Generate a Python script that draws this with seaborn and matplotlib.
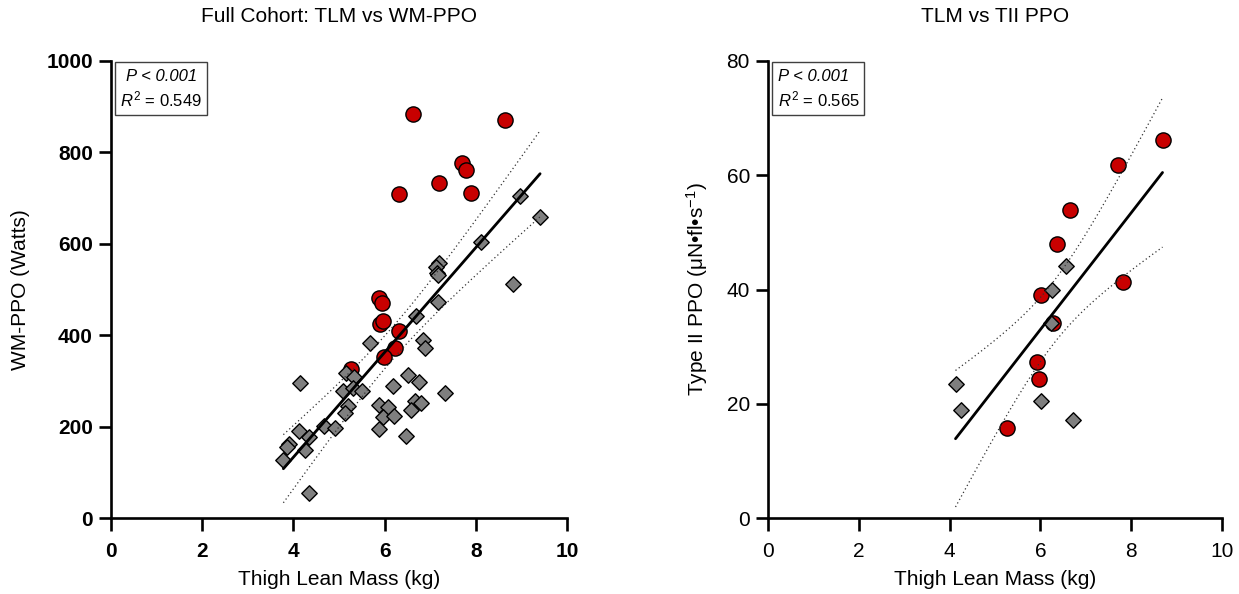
import numpy as np
import pandas as pd
import matplotlib
matplotlib.use("Agg")
import matplotlib.pyplot as plt
from matplotlib.patches import Rectangle
import seaborn as sns

# ---------------- data ----------------
# Left panel: Full cohort, TLM (kg) vs WM-PPO (W)
left_red_x = [6.62, 8.64, 7.69, 7.79, 7.20, 6.32, 7.89, 5.88, 5.94, 5.90, 5.97, 6.32, 6.23, 5.98, 5.26]
left_red_y = [885, 870, 777, 761, 733, 709, 711, 481, 471, 424, 432, 409, 373, 352, 325]
left_grey_x = [8.97, 9.41, 8.11, 7.19, 7.13, 7.14, 7.18, 8.82, 7.18, 6.69, 5.68, 6.85, 6.89, 4.14,
               5.15, 5.33, 5.09, 5.30, 5.50, 6.52, 6.76, 6.19, 7.32, 5.20, 5.13, 5.88, 6.08, 5.97,
               6.21, 6.67, 6.79, 6.57, 4.67, 4.92, 5.88, 6.46, 4.12, 4.35, 3.90, 3.87, 4.25, 3.78, 4.35]
left_grey_y = [705, 658, 603, 557, 550, 537, 532, 512, 473, 443, 382, 390, 373, 295,
               318, 309, 278, 284, 278, 313, 297, 289, 273, 245, 230, 247, 242, 222,
               224, 257, 251, 236, 202, 196, 194, 180, 190, 178, 162, 155, 149, 128, 54]

# Right panel: TLM (kg) vs Type II PPO
right_red_x = [8.69, 7.72, 6.65, 6.36, 6.02, 6.28, 5.92, 5.96, 5.27, 7.82]
right_red_y = [66.2, 61.8, 54.0, 47.9, 39.1, 34.1, 27.3, 24.3, 15.8, 41.4]
right_grey_x = [6.56, 6.25, 6.23, 4.13, 4.26, 6.01, 6.71]
right_grey_y = [44.2, 40.0, 34.2, 23.5, 18.9, 20.4, 17.2]

titles = ["Full Cohort: TLM vs WM-PPO", "TLM vs TII PPO"]
xlabel = "Thigh Lean Mass (kg)"
ylabels = ["WM-PPO (Watts)", "Type II PPO (\u03bcN\u2022fl\u2022s$^{-1}$)"]
p_text = ["P < 0.001", "P < 0.001"]
r2_text = ["0.549", "0.565"]
x_ticks = [0, 2, 4, 6, 8, 10]
y_ticks_left = [0, 200, 400, 600, 800, 1000]
y_ticks_right = [0, 20, 40, 60, 80]

RED = "#C80000"
GREY = "#7F7F7F"

# ---------------- style ----------------
sns.set_style("ticks")
plt.rcParams["font.family"] = ["Liberation Sans", "DejaVu Sans"]
plt.rcParams["mathtext.fontset"] = "custom"
plt.rcParams["mathtext.rm"] = "Liberation Sans"
plt.rcParams["mathtext.it"] = "Liberation Sans:italic"
plt.rcParams["mathtext.bf"] = "Liberation Sans:bold"
plt.rcParams["text.color"] = "black"
plt.rcParams["axes.labelcolor"] = "black"
plt.rcParams["xtick.color"] = "black"
plt.rcParams["ytick.color"] = "black"

fig = plt.figure(figsize=(12.39, 5.94), dpi=100)
axL = fig.add_axes([111 / 1239, 1 - 518 / 594, (567 - 111) / 1239, (518 - 61) / 594])
axR = fig.add_axes([768 / 1239, 1 - 518 / 594, (1222 - 768) / 1239, (518 - 61) / 594])


def tcrit(df):
    z = 1.959964
    return z + (z**3 + z) / (4 * df) + (5 * z**5 + 16 * z**3 + 3 * z) / (96 * df**2)


def panel(ax, rx, ry, gx, gy, yticks, bold, title, ylab, ptxt, r2, centered):
    d_red = pd.DataFrame({"x": rx, "y": ry})
    d_grey = pd.DataFrame({"x": gx, "y": gy})
    d_all = pd.concat([d_red, d_grey], ignore_index=True)

    sns.scatterplot(data=d_red, x="x", y="y", ax=ax, marker="o", s=120, color=RED,
                    edgecolor="black", linewidth=1.0, zorder=3)
    sns.scatterplot(data=d_grey, x="x", y="y", ax=ax, marker="D", s=62, color=GREY,
                    edgecolor="black", linewidth=1.0, zorder=4)
    sns.regplot(data=d_all, x="x", y="y", ax=ax, scatter=False, ci=None, truncate=True,
                line_kws={"color": "black", "lw": 2.0, "zorder": 5})

    # 95% confidence band of the fit (dotted curves)
    x = d_all["x"].to_numpy(); y = d_all["y"].to_numpy()
    n = len(x)
    b, a = np.polyfit(x, y, 1)
    resid = y - (a + b * x)
    s = np.sqrt(np.sum(resid**2) / (n - 2))
    sxx = np.sum((x - x.mean())**2)
    xs = np.linspace(x.min(), x.max(), 200)
    yh = a + b * xs
    half = tcrit(n - 2) * s * np.sqrt(1 / n + (xs - x.mean())**2 / sxx)
    for sign in (1, -1):
        ax.plot(xs, yh + sign * half, color="#333333", lw=0.9, ls=(0, (1, 2.2)), zorder=5)

    ax.set_xlim(0, 10)
    ax.set_ylim(0, yticks[-1])
    fw = "bold" if bold else "normal"
    ax.set_xticks(x_ticks, [str(t) for t in x_ticks], fontweight=fw)
    ax.set_yticks(yticks, [str(t) for t in yticks], fontweight=fw)
    ax.tick_params(axis="both", direction="out", length=9, width=1.9, labelsize=15,
                   color="black", labelcolor="black")
    ax.tick_params(axis="x", pad=8)
    ax.tick_params(axis="y", pad=4)
    for sp in ("top", "right"):
        ax.spines[sp].set_visible(False)
    for sp in ("left", "bottom"):
        ax.spines[sp].set_linewidth(1.9)
        ax.spines[sp].set_color("black")
    ax.set_xlabel(xlabel, fontsize=15, labelpad=7, color="black")
    ax.set_ylabel(ylab, fontsize=15, labelpad=12, color="black")
    ax.set_title(title, fontsize=15, pad=28, color="black")

    # stats box
    ax.add_patch(Rectangle((0.009, 0.882), 0.202, 0.116, transform=ax.transAxes,
                           fill=False, edgecolor="#404040", lw=1.0, zorder=6, clip_on=False))
    if centered:
        xt, ha = 0.110, "center"
    else:
        xt, ha = 0.022, "left"
    ax.text(xt, 0.966, ptxt, transform=ax.transAxes, fontsize=12, style="italic",
            ha=ha, va="center", zorder=7, color="black")
    ax.text(xt, 0.915, r"$R^2$ = " + r2, transform=ax.transAxes, fontsize=12,
            ha=ha, va="center", zorder=7, color="black")


panel(axL, left_red_x, left_red_y, left_grey_x, left_grey_y, y_ticks_left, True,
      titles[0], ylabels[0], p_text[0], r2_text[0], True)
panel(axR, right_red_x, right_red_y, right_grey_x, right_grey_y, y_ticks_right, False,
      titles[1], ylabels[1], p_text[1], r2_text[1], False)

fig.savefig("out.png", dpi=100)
